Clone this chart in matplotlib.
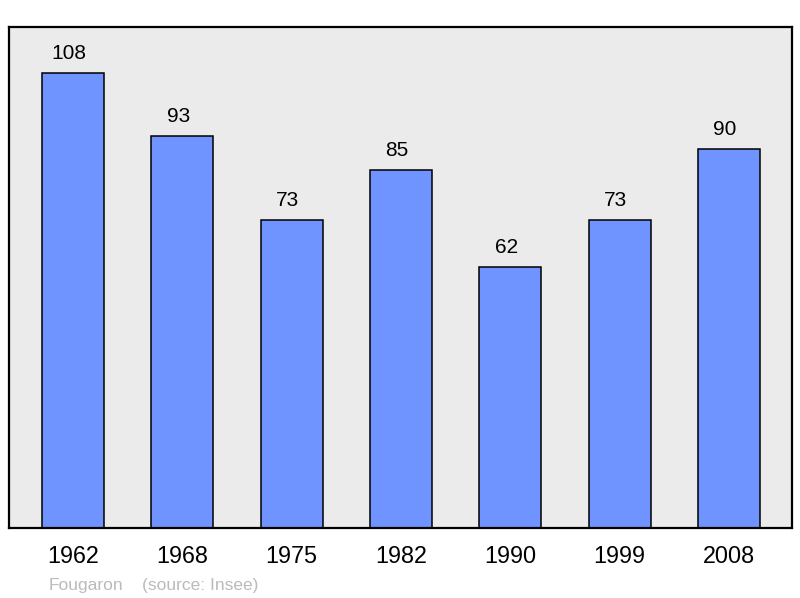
import matplotlib.pyplot as plt

plt.rcParams['font.family'] = ['Liberation Sans', 'DejaVu Sans']

# data
years = ['1962', '1968', '1975', '1982', '1990', '1999', '2008']
population = [108, 93, 73, 85, 62, 73, 90]

fig = plt.figure(figsize=(8, 5.98), dpi=100)
ax = fig.add_axes([0.01125, 0.117, 0.97875, 0.838])
ax.set_facecolor('#ebebeb')

x = range(len(years))
ax.bar(x, population, width=0.567, color='#7094ff', edgecolor='black', linewidth=1.1)

for xi, v in zip(x, population):
    ax.annotate(str(v), (xi, v), xytext=(-3, 10), textcoords='offset points',
                ha='center', va='baseline', fontsize=15)

ax.set_xlim(-0.586, len(years) - 1 + 0.576)
ax.set_ylim(0, 118.9)
ax.set_xticks(list(x))
ax.set_xticklabels(years, fontsize=16.8)
ax.tick_params(axis='x', length=0, pad=12)
ax.set_yticks([])
for s in ax.spines.values():
    s.set_linewidth(1.6)

fig.text(49 / 800, 1 - 590 / 598, 'Fougaron', color='#bbbbbb', fontsize=12.5)
fig.text(142 / 800, 1 - 590 / 598, '(source: Insee)', color='#bbbbbb', fontsize=12.5)

fig.savefig('out.png', dpi=100)
